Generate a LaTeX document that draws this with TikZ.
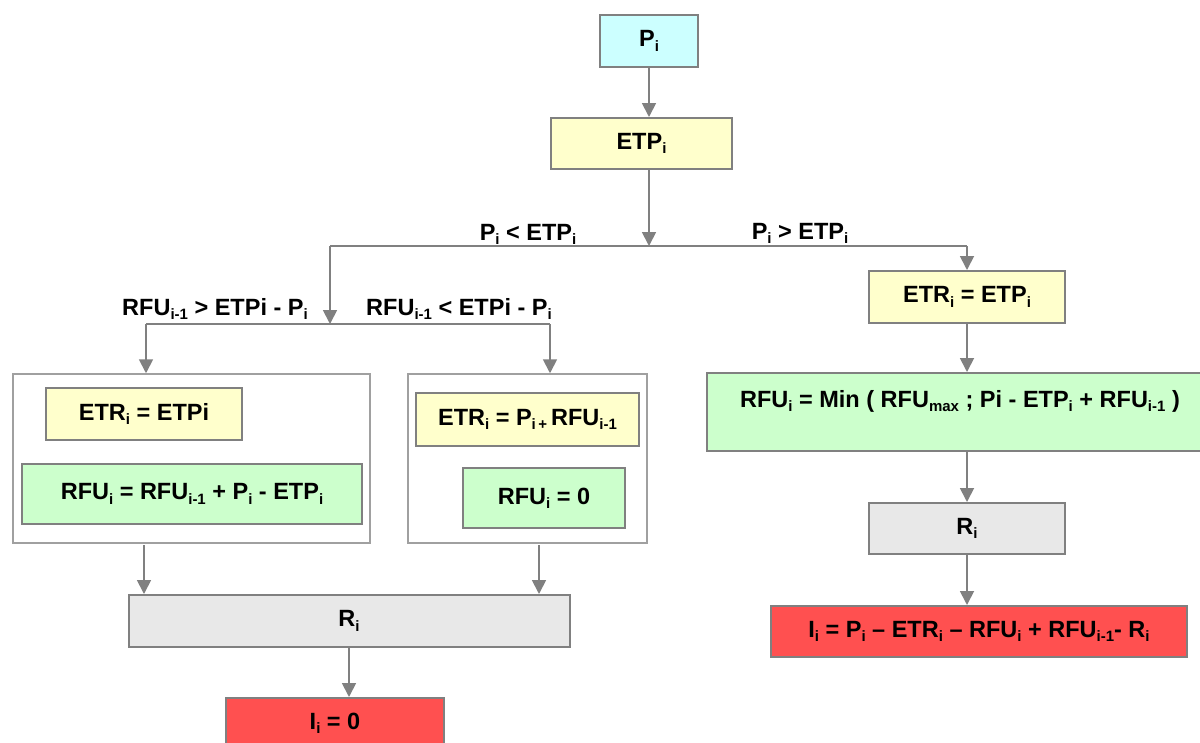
\documentclass[tikz,border=0pt]{standalone}
\usepackage{fontspec}
\setmainfont{Liberation Sans}
\usetikzlibrary{arrows.meta}
\definecolor{bord}{HTML}{808080}
\definecolor{cont}{HTML}{A0A0A0}
\definecolor{cy}{HTML}{CCFFFF}
\definecolor{ye}{HTML}{FFFFCC}
\definecolor{gr}{HTML}{CCFFCC}
\definecolor{gy}{HTML}{E8E8E8}
\definecolor{rd}{HTML}{FF5050}
\newcommand{\sbi}[1]{\raisebox{-0.18em}{\fontsize{15}{15}\selectfont #1}}
\begin{document}
\begin{tikzpicture}[x=1pt,y=-1pt,
  txt/.style={font=\bfseries\fontsize{23.5}{28}\selectfont, text=black, inner sep=0pt},
  box/.style={txt, draw=bord, line width=2pt},
  cyanbox/.style={box, fill=cy},
  yellowbox/.style={box, fill=ye},
  greenbox/.style={box, fill=gr},
  graybox/.style={box, fill=gy},
  redbox/.style={box, fill=rd},
  container/.style={draw=cont, line width=1.5pt, fill=white, inner sep=0pt},
  lbl/.style={txt, anchor=base},
  arr/.style={draw=bord, line width=1.8pt, -{Triangle[width=14pt,length=14pt]}},
  conn/.style={draw=bord, line width=1.8pt}
]
\useasboundingbox (0,0) rectangle (1200,742);
\fill[white] (0,0) rectangle (1200,742);
\clip (0,0) rectangle (1200,742);

% top
\node[cyanbox, minimum width=98, minimum height=52] (pi) at (649,41) {P\sbi{i}};
\node[yellowbox, minimum width=181, minimum height=51] (etp) at (641.5,143.5) {ETP\sbi{i}};
\coordinate (jc) at (649,246);
\coordinate (jl) at (330,246);
\coordinate (jr) at (967,246);
\draw[arr] (pi.south) -- (pi.south |- etp.north);
\draw[arr] (etp.south -| jc) -- (jc);
\draw[conn] (jl) -- (jr);
\node[lbl] (lblt) at (528,240) {P\sbi{i} < ETP\sbi{i}};
\node[lbl] (lblf) at (800,239) {P\sbi{i} > ETP\sbi{i}};

% left branch
\coordinate (kl) at (146,324);
\coordinate (kc) at (330,324);
\coordinate (kr) at (550,324);
\draw[arr] (jl) -- (kc);
\draw[conn] (kl) -- (kr);
\node[lbl] (lbla) at (215,315) {RFU\sbi{i-1} > ETPi - P\sbi{i}};
\node[lbl] (lblb) at (459,315) {RFU\sbi{i-1} < ETPi - P\sbi{i}};

\node[container, minimum width=357, minimum height=169] (cl) at (191.5,458.5) {};
\node[container, minimum width=239, minimum height=169] (cr) at (527.5,458.5) {};
\draw[arr] (kl) -- (kl |- cl.north);
\draw[arr] (kr) -- (kr |- cr.north);

\node[yellowbox, minimum width=196, minimum height=52] (etrL) at (144,414) {ETR\sbi{i} = ETPi};
\node[greenbox, minimum width=340, minimum height=60] (rfuL) at (192,494) {RFU\sbi{i} = RFU\sbi{i-1} + P\sbi{i} - ETP\sbi{i}};
\node[yellowbox, minimum width=223, minimum height=53] (etrR) at (527.5,419.5) {ETR\sbi{i} = P\sbi{i\,+}\,RFU\sbi{i-1}};
\node[greenbox, minimum width=162, minimum height=60] (rfu0) at (544,498) {RFU\sbi{i} = 0};

\node[graybox, minimum width=441, minimum height=52] (riL) at (349,621) {R\sbi{i}};
\node[redbox, minimum width=218, minimum height=51] (iiL) at (335,723.5) {I\sbi{i} = 0};
\coordinate (oa) at (144,545);
\coordinate (ob) at (539,545);
\draw[arr] (oa) -- (oa |- riL.north);
\draw[arr] (ob) -- (ob |- riL.north);
\draw[arr] (riL.south) -- (riL.south |- iiL.north);

% right branch
\node[yellowbox, minimum width=196, minimum height=52] (etr2) at (967,297) {ETR\sbi{i} = ETP\sbi{i}};
\node[greenbox, minimum width=520, minimum height=78] (rfuM) at (967,412) {};
\node[txt] (rfuMt) at (960,401) {RFU\sbi{i} = Min ( RFU\sbi{max} ; Pi - ETP\sbi{i} + RFU\sbi{i-1} )};
\node[graybox, minimum width=196, minimum height=51] (ri2) at (967,528.5) {R\sbi{i}};
\node[redbox, minimum width=416, minimum height=51] (ii2) at (979,631.5) {I\sbi{i} = P\sbi{i} – ETR\sbi{i} – RFU\sbi{i} + RFU\sbi{i-1}- R\sbi{i}};
\draw[arr] (jr) -- (jr |- etr2.north);
\draw[arr] (etr2.south) -- (rfuM.north);
\draw[arr] (rfuM.south) -- (ri2.north);
\draw[arr] (ri2.south) -- (ri2.south |- ii2.north);
\end{tikzpicture}
\end{document}
